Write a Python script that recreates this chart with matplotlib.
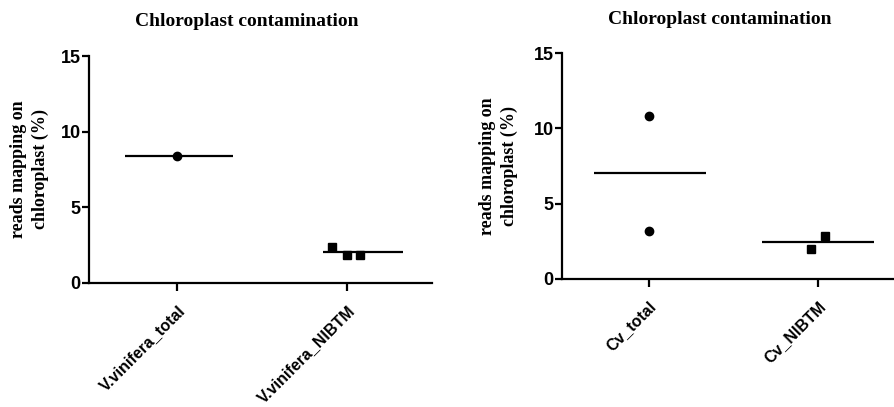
import numpy as np
import matplotlib.pyplot as plt

# data (% of reads mapping on chloroplast)
left_groups = ['V.vinifera_total', 'V.vinifera_NIBTM']
left_total = [8.4]
left_nibtm = [2.4, 1.85, 1.85]

right_groups = ['Cv_total', 'Cv_NIBTM']
right_total = [10.85, 3.2]
right_nibtm = [2.0, 2.85]

# horizontal jitter of the points within each group, and mean-line extents
left_jitter = [[0.0], [-0.09, 0.0, 0.08]]
right_jitter = [[0.0, 0.0], [-0.04, 0.04]]
left_spans = [(-0.31, 0.33), (-0.14, 0.33)]
right_spans = [(-0.32, 0.34), (-0.33, 0.33)]

title = 'Chloroplast contamination'
ylabel = 'reads mapping on\nchloroplast (%)'

fig = plt.figure(figsize=(8.95, 4.07), dpi=100)


def draw(ax, groups, values, jitter, spans, xlim, labelpad):
    markers = ['o', 's']
    for i, (vals, jit) in enumerate(zip(values, jitter)):
        x = np.array(jit) + i
        ax.plot(x, vals, linestyle='none', marker=markers[i], ms=6,
                color='black', clip_on=False, zorder=3)
        m = np.mean(vals)
        ax.plot([i + spans[i][0], i + spans[i][1]], [m, m], color='black',
                lw=1.6, solid_capstyle='butt')
    ax.set_xlim(*xlim)
    ax.set_ylim(0, 15)
    ax.set_yticks([0, 5, 10, 15])
    ax.set_xticks(range(len(groups)))
    ax.set_xticklabels(groups, rotation=45, ha='right', rotation_mode='anchor',
                       fontfamily='Liberation Sans', fontweight='bold', fontsize=11.5)
    for lab in ax.get_yticklabels():
        lab.set_fontfamily('Liberation Sans')
        lab.set_fontweight('bold')
        lab.set_fontsize(13)
    for s in ['top', 'right']:
        ax.spines[s].set_visible(False)
    for s in ['left', 'bottom']:
        ax.spines[s].set_linewidth(1.6)
    ax.tick_params(axis='y', direction='out', length=5, width=1.6, pad=1)
    ax.tick_params(axis='x', direction='out', length=6, width=1.6, pad=8)
    ax.set_ylabel(ylabel, fontfamily='Liberation Serif', fontweight='bold',
                  fontsize=13, labelpad=labelpad, linespacing=1.35)


ax1 = fig.add_axes([0.0994, 0.3047, 0.383, 0.5577])
draw(ax1, left_groups, [left_total, left_nibtm], left_jitter, left_spans, (-0.52, 1.5), 8)
ax2 = fig.add_axes([0.628, 0.3145, 0.372, 0.555])
draw(ax2, right_groups, [right_total, right_nibtm], right_jitter, right_spans, (-0.51, 1.453), 11)

fig.text(247 / 895, 1 - 22 / 407, title, ha='center', va='center',
         fontfamily='Liberation Serif', fontweight='bold', fontsize=14)
fig.text(720 / 895, 1 - 19 / 407, title, ha='center', va='center',
         fontfamily='Liberation Serif', fontweight='bold', fontsize=14)

fig.savefig('out.png', dpi=100)
